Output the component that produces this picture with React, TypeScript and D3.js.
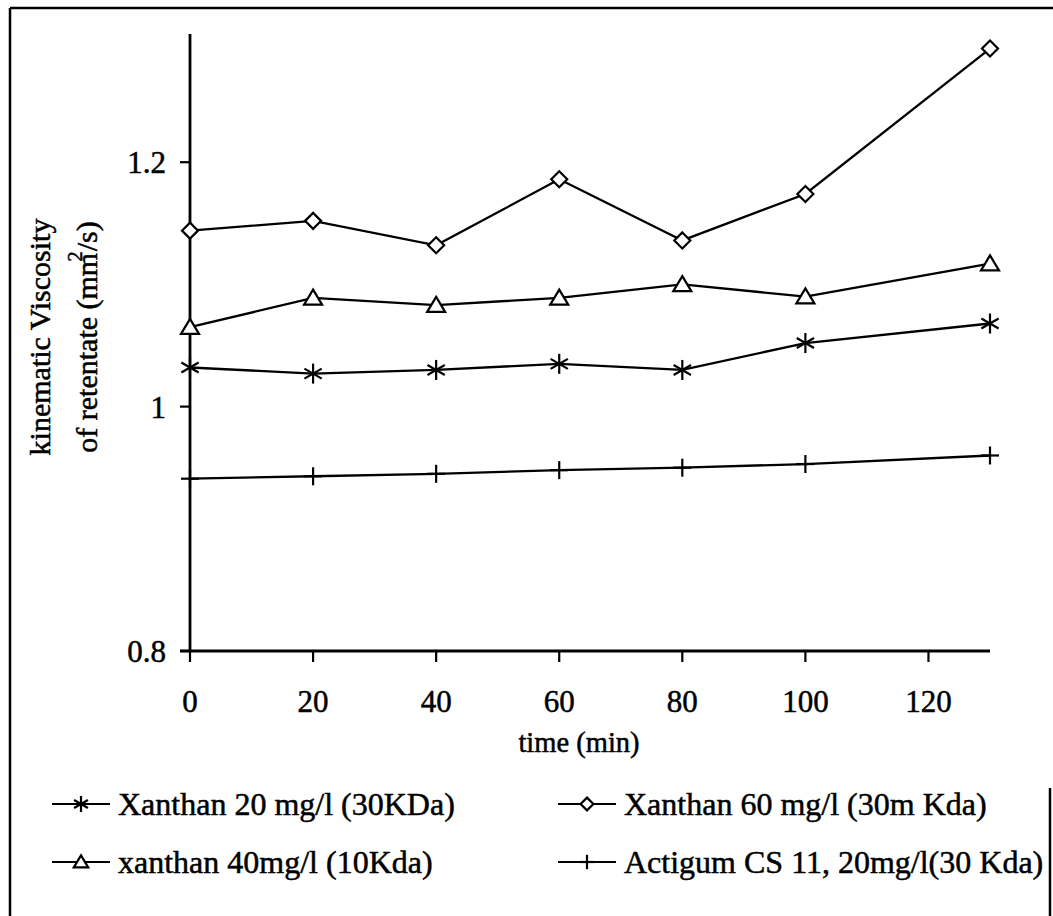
import React from 'react';
import * as d3 from 'd3';

// time (min)
const times = [0, 20, 40, 60, 80, 100, 130];

// kinematic viscosity of retentate (mm2/s)
const xanthan20 = [1.032, 1.027, 1.030, 1.035, 1.030, 1.052, 1.068];
const xanthan60 = [1.144, 1.152, 1.132, 1.186, 1.136, 1.174, 1.293];
const xanthan40 = [1.065, 1.089, 1.083, 1.089, 1.100, 1.090, 1.117];
const actigum = [0.941, 0.943, 0.945, 0.948, 0.950, 0.953, 0.960];

const xTicks = [0, 20, 40, 60, 80, 100, 120];
const yTicks = [0.8, 1, 1.2];
const yTickLabels = ['0.8', '1', '1.2'];

const seriesNames = [
  'Xanthan 20 mg/l (30KDa)',
  'Xanthan 60 mg/l (30m Kda)',
  'xanthan 40mg/l (10Kda)',
  'Actigum CS 11, 20mg/l(30 Kda)',
];

const FONT = '"Liberation Serif", "Times New Roman", serif';

type Kind = 'star' | 'diamond' | 'triangle' | 'plus';

function Marker({ kind, x, y, s = 1 }: { kind: Kind; x: number; y: number; s?: number }) {
  const common = { stroke: '#000', strokeWidth: 2.2, fill: 'none' };
  if (kind === 'star') {
    const r = 10 * s;
    const segs = [90, 30, 150].map((a) => {
      const rad = (a * Math.PI) / 180;
      const dx = r * Math.cos(rad);
      const dy = r * Math.sin(rad);
      return <line key={a} x1={x - dx} y1={y - dy} x2={x + dx} y2={y + dy} {...common} />;
    });
    return <g>{segs}</g>;
  }
  if (kind === 'diamond') {
    const r = 8 * s;
    return (
      <path
        d={`M${x},${y - r}L${x + r},${y}L${x},${y + r}L${x - r},${y}Z`}
        {...common}
        fill="#fff"
      />
    );
  }
  if (kind === 'triangle') {
    const w = 9 * s;
    const h = 15 * s;
    return (
      <path
        d={`M${x},${y - h * 0.55}L${x + w},${y + h * 0.45}L${x - w},${y + h * 0.45}Z`}
        {...common}
        fill="#fff"
      />
    );
  }
  const r = 9 * s;
  return (
    <g>
      <line x1={x} y1={y - r} x2={x} y2={y + r} {...common} />
      <line x1={x - r} y1={y} x2={x + r} y2={y} {...common} />
    </g>
  );
}

export default function App() {
  const width = 1053;
  const height = 916;

  const x = d3.scaleLinear().domain([0, 130]).range([190, 990]);
  const y = d3.scaleLinear().domain([0.8, 1.3]).range([651, 40]);

  const series: { name: string; values: number[]; kind: Kind }[] = [
    { name: seriesNames[0], values: xanthan20, kind: 'star' },
    { name: seriesNames[1], values: xanthan60, kind: 'diamond' },
    { name: seriesNames[2], values: xanthan40, kind: 'triangle' },
    { name: seriesNames[3], values: actigum, kind: 'plus' },
  ];

  const line = d3
    .line<number>()
    .x((_, i) => x(times[i]))
    .y((d) => y(d));

  const legendPos = [
    { lx: 52, ly: 804 },
    { lx: 558, ly: 804 },
    { lx: 52, ly: 862 },
    { lx: 558, ly: 862 },
  ];

  const textStroke = { stroke: '#000', strokeWidth: 0.5 };

  return (
    <svg
      width={width}
      height={height}
      style={{ position: 'absolute', left: 0, top: 0, background: '#fff' }}
      fontFamily={FONT}
    >
      <rect width={width} height={height} fill="#fff" />
      {/* frame */}
      <line x1={10} y1={8} x2={width} y2={8} stroke="#000" strokeWidth={2.5} />
      <line x1={10} y1={8} x2={10} y2={height} stroke="#000" strokeWidth={2.5} />
      <line x1={1050} y1={788} x2={1050} y2={height} stroke="#000" strokeWidth={2.5} />

      {/* axes */}
      <line x1={x(0)} y1={y(0.8)} x2={x(0)} y2={y(1.305)} stroke="#000" strokeWidth={2.8} />
      <line x1={x(0) - 10} y1={y(0.8)} x2={x(130)} y2={y(0.8)} stroke="#000" strokeWidth={2.8} />
      {yTicks.map((t, i) => (
        <g key={t}>
          <line x1={x(0) - 10} y1={y(t)} x2={x(0)} y2={y(t)} stroke="#000" strokeWidth={2.2} />
          <text x={166} y={y(t) + 11} textAnchor="end" fontSize={31} {...textStroke}>
            {yTickLabels[i]}
          </text>
        </g>
      ))}
      {xTicks.map((t) => (
        <g key={t}>
          <line x1={x(t)} y1={y(0.8)} x2={x(t)} y2={y(0.8) + 11} stroke="#000" strokeWidth={2.2} />
          <text x={x(t)} y={712} textAnchor="middle" fontSize={31} {...textStroke}>
            {t}
          </text>
        </g>
      ))}
      <text x={579} y={752} textAnchor="middle" fontSize={28.5} {...textStroke}>
        time (min)
      </text>
      <g transform="translate(0,337) rotate(-90)" {...textStroke}>
        <text x={0} y={50} textAnchor="middle" fontSize={30}>
          kinematic Viscosity
        </text>
        <text x={0} y={97} textAnchor="middle" fontSize={30}>
          of retentate (mm
          <tspan dx={-9} dy={-15} fontSize={21}>2</tspan>
          <tspan dy={15}>/s)</tspan>
        </text>
      </g>

      {/* series */}
      {series.map((s) => (
        <g key={s.name}>
          <path d={line(s.values) ?? ''} fill="none" stroke="#000" strokeWidth={2.3} />
          {s.values.map((v, i) => (
            <Marker key={i} kind={s.kind} x={x(times[i])} y={y(v)} />
          ))}
        </g>
      ))}

      {/* legend */}
      {series.map((s, i) => {
        const p = legendPos[i];
        return (
          <g key={s.name}>
            <line x1={p.lx} y1={p.ly} x2={p.lx + 58} y2={p.ly} stroke="#000" strokeWidth={2.2} />
            <Marker kind={s.kind} x={p.lx + 29} y={p.ly} s={0.8} />
            <text x={p.lx + 66} y={p.ly + 11} fontSize={32} {...textStroke}>
              {s.name}
            </text>
          </g>
        );
      })}
    </svg>
  );
}
